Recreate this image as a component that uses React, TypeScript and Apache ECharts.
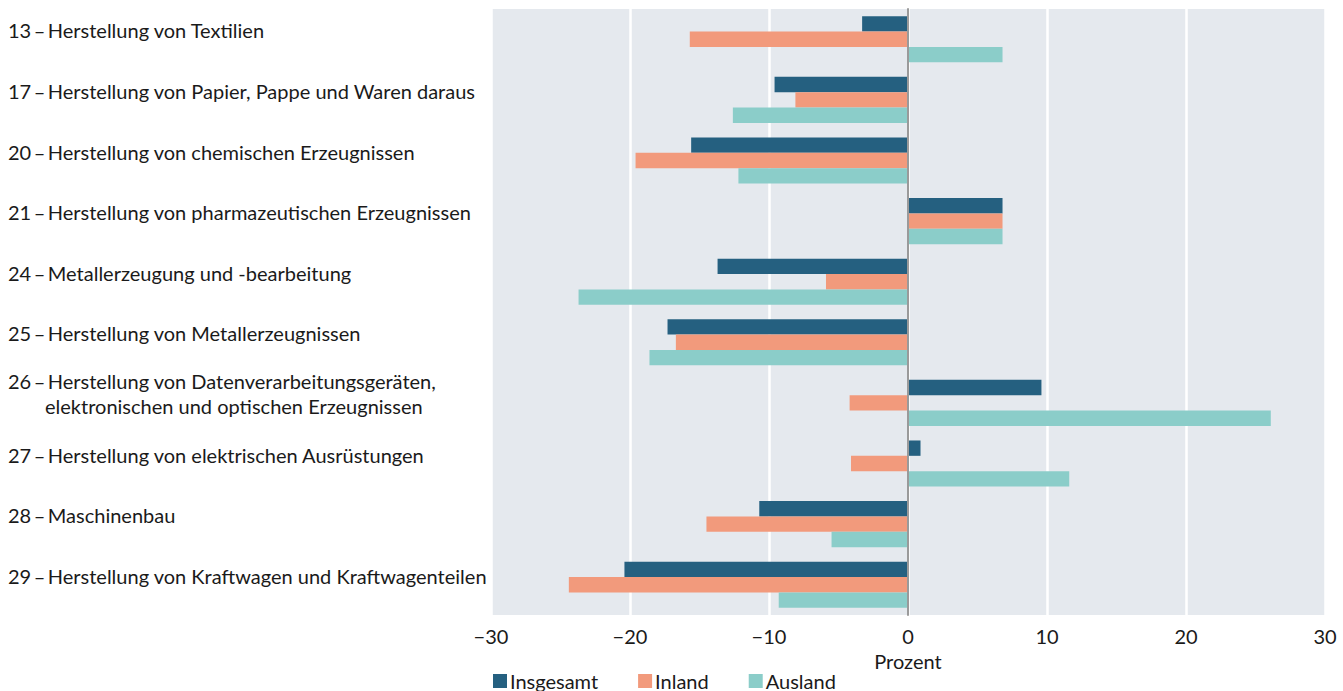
import React, { useEffect, useRef } from "react";
import * as echarts from "echarts";

const categories = [
  "13\u2009–\u2009Herstellung von Textilien",
  "17\u2009–\u2009Herstellung von Papier, Pappe und Waren daraus",
  "20\u2009–\u2009Herstellung von chemischen Erzeugnissen",
  "21\u2009–\u2009Herstellung von pharmazeutischen Erzeugnissen",
  "24\u2009–\u2009Metallerzeugung und -bearbeitung",
  "25\u2009–\u2009Herstellung von Metallerzeugnissen",
  "26\u2009–\u2009Herstellung von Datenverarbeitungsgeräten,\nelektronischen und optischen Erzeugnissen",
  "27\u2009–\u2009Herstellung von elektrischen Ausrüstungen",
  "28\u2009–\u2009Maschinenbau",
  "29\u2009–\u2009Herstellung von Kraftwagen und Kraftwagenteilen",
];

const insgesamt = [-3.3, -9.6, -15.6, 6.8, -13.7, -17.3, 9.6, 0.9, -10.7, -20.4];
const inland = [-15.7, -8.1, -19.6, 6.8, -5.9, -16.7, -4.2, -4.1, -14.5, -24.4];
const ausland = [6.8, -12.6, -12.2, 6.8, -23.7, -18.6, 26.1, 11.6, -5.5, -9.3];

const seriesNames = ["Insgesamt", "Inland", "Ausland"];
const colors = ["#256080", "#f29a7c", "#8bcdc9"];

const FONT = "Lato, 'Noto Sans', sans-serif";
const FS = 20;

export default function App() {
  const ref = useRef<HTMLDivElement>(null);
  useEffect(() => {
    if (!ref.current) return;
    const chart = echarts.init(ref.current, undefined, { renderer: "svg" });
    const data = [insgesamt, inland, ausland];
    chart.setOption({
      animation: false,
      textStyle: { fontFamily: FONT },
      grid: {
        left: 491,
        right: 18,
        top: 9,
        bottom: 76,
        show: true,
        backgroundColor: "#e5e9ee",
        borderWidth: 0,
      },
      legend: {
        left: 493,
        top: 671,
        padding: 0,
        itemWidth: 14,
        itemHeight: 14,
        itemGap: 40,
        icon: "rect",
        textStyle: { fontSize: FS, color: "#1a1a1a", fontFamily: FONT, padding: [0, 0, 0, -2] },
        data: seriesNames,
      },
      xAxis: {
        type: "value",
        min: -30,
        max: 30,
        interval: 10,
        name: "Prozent",
        nameLocation: "middle",
        nameGap: 36,
        nameTextStyle: { fontSize: FS, color: "#1a1a1a", fontFamily: FONT },
        axisLine: { show: false },
        axisTick: { show: false },
        axisLabel: {
          fontSize: FS,
          color: "#1a1a1a",
          margin: 11,
          fontFamily: FONT,
          formatter: (v: number) => (v < 0 ? "\u2212" + Math.abs(v) : String(v)),
        },
        splitLine: { show: true, lineStyle: { color: "#ffffff", width: 2.5 } },
      },
      yAxis: {
        type: "category",
        inverse: true,
        data: categories,
        z: 10,
        axisLine: { show: true, onZero: true, lineStyle: { color: "#9a9a9a", width: 2 } },
        axisTick: { show: false },
        splitLine: { show: false },
        axisLabel: {
          align: "left",
          verticalAlign: "middle",
          margin: 483,
          fontSize: FS,
          color: "#1a1a1a",
          fontFamily: FONT,
          padding: [0, 0, 18, 0],
          lineHeight: 25,
          formatter: (v: string) => {
            const parts = v.split("\n");
            return parts
              .map((p, i) => (i === 0 ? "{t|" + p + "}" : "{ind|" + p + "}"))
              .join("\n");
          },
          rich: {
            t: { fontSize: FS, color: "#1a1a1a", fontFamily: FONT, lineHeight: 25 },
            ind: { fontSize: FS, color: "#1a1a1a", fontFamily: FONT, lineHeight: 25, padding: [0, 0, 0, 37] },
          },
        },
      },
      series: seriesNames.map((name, i) => ({
        name,
        type: "bar",
        data: data[i],
        barGap: "0%",
        barCategoryGap: "24%",
        itemStyle: { color: colors[i] },
      })),
    });
    return () => chart.dispose();
  }, []);
  return (
    <div
      ref={ref}
      style={{ position: "absolute", left: 0, top: 0, width: 1343, height: 691 }}
    />
  );
}
